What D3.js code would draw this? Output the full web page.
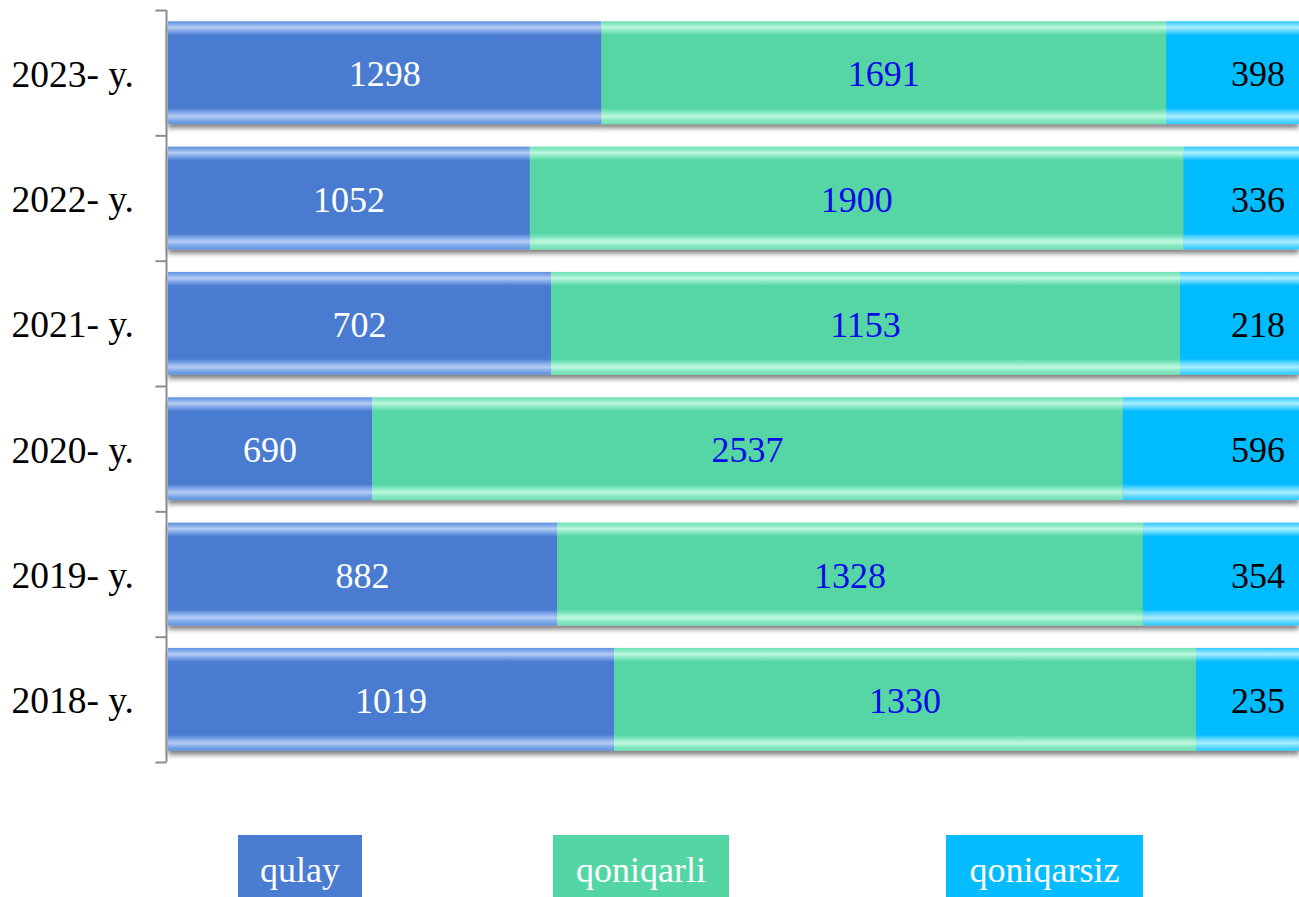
<!DOCTYPE html>
<html>
<head>
<meta charset="utf-8">
<script src="https://cdn.jsdelivr.net/npm/d3@7"></script>
<style>
  html, body { margin: 0; padding: 0; background: #fff; }
  svg { display: block; }
</style>
</head>
<body>
<svg id="chart" width="1299" height="897"></svg>
<script>
// Years, top to bottom
const years = ["2023- y.", "2022- y.", "2021- y.", "2020- y.", "2019- y.", "2018- y."];
// Series values per year
const qulay      = [1298, 1052, 702, 690, 882, 1019];
const qoniqarli  = [1691, 1900, 1153, 2537, 1328, 1330];
const qoniqarsiz = [398, 336, 218, 596, 354, 235];
const seriesNames = ["qulay", "qoniqarli", "qoniqarsiz"];

const plotLeft = 167, plotRight = 1299, plotTop = 10, plotBottom = 762;
const fontFam = "'Liberation Serif', 'Times New Roman', serif";

const palette = {
  qulay:      { main: "#4a7cd1", edge: "#5f91e0", light: "#b5cdf3", mid: "#7ea6e8", text: "#ffffff" },
  qoniqarli:  { main: "#54d6a4", edge: "#6ee0b4", light: "#bff8de", mid: "#86e8c2", text: "#0a0ae8" },
  qoniqarsiz: { main: "#05bcff", edge: "#2ec8ff", light: "#aaeeff", mid: "#5ed6ff", text: "#000000" }
};

const rows = years.map((yr, i) => ({
  year: yr,
  qulay: qulay[i],
  qoniqarli: qoniqarli[i],
  qoniqarsiz: qoniqarsiz[i]
}));
const stacked = d3.stack().keys(seriesNames).offset(d3.stackOffsetExpand)(rows);

const svg = d3.select("#chart");
const defs = svg.append("defs");

// Glossy bands along the top and bottom edge of each bar
seriesNames.forEach(k => {
  const c = palette[k];
  const g = defs.append("linearGradient")
    .attr("id", "grad-" + k).attr("x1", 0).attr("y1", 0).attr("x2", 0).attr("y2", 1);
  [
    [0, c.edge], [0.025, c.mid], [0.06, c.light], [0.095, c.mid], [0.135, c.main],
    [0.845, c.main], [0.885, c.mid], [0.925, c.light], [0.965, c.mid], [1, c.edge]
  ].forEach(([o, col]) => g.append("stop").attr("offset", o).attr("stop-color", col));
});

const shadow = defs.append("filter").attr("id", "shadow")
  .attr("x", "-5%").attr("y", "-10%").attr("width", "110%").attr("height", "130%");
shadow.append("feDropShadow").attr("dx", 0).attr("dy", 4).attr("stdDeviation", 2.4)
  .attr("flood-color", "#000").attr("flood-opacity", 0.5);

const x = d3.scaleLinear().domain([0, 1]).range([plotLeft + 1, plotRight]);
const y = d3.scaleBand().domain(years).range([plotTop, plotBottom]).paddingInner(0.18).paddingOuter(0.09);

// Bars, one group per year so the shadow falls under the whole row
const rowG = svg.append("g").selectAll("g.row").data(years).join("g")
  .attr("class", "row").attr("filter", "url(#shadow)");

rowG.each(function(yr, i) {
  const g = d3.select(this);
  stacked.forEach(layer => {
    const d = layer[i];
    g.append("rect")
      .attr("x", x(d[0]))
      .attr("y", y(yr))
      .attr("width", x(d[1]) - x(d[0]))
      .attr("height", y.bandwidth())
      .attr("fill", `url(#grad-${layer.key})`);
  });
});

// Value labels
const labelG = svg.append("g").attr("font-family", fontFam).attr("font-size", 36);
years.forEach((yr, i) => {
  stacked.forEach((layer, li) => {
    const d = layer[i];
    const last = li === stacked.length - 1;
    labelG.append("text")
      .attr("x", last ? x(d[1]) - 14 : (x(d[0]) + x(d[1])) / 2)
      .attr("y", y(yr) + y.bandwidth() / 2 + 1)
      .attr("dy", "0.35em")
      .attr("text-anchor", last ? "end" : "middle")
      .attr("fill", palette[layer.key].text)
      .text(rows[i][layer.key]);
  });
});

// Category axis: ticks at band boundaries
const yEdges = d3.scaleLinear().domain([0, years.length]).range([plotBottom, plotTop]);
const axisG = svg.append("g").attr("transform", `translate(${plotLeft - 0.5},0)`)
  .call(d3.axisLeft(yEdges).ticks(years.length).tickSize(11).tickSizeOuter(0).tickFormat(""));
axisG.selectAll("line, path").attr("stroke", "#8c8c8c").attr("stroke-width", 2);
axisG.select(".domain").attr("d", `M0,${plotTop}V${plotBottom}`);

// Year labels
svg.append("g").selectAll("text").data(years).join("text")
  .attr("x", plotLeft - 33)
  .attr("y", d => y(d) + y.bandwidth() / 2 + 1)
  .attr("dy", "0.35em")
  .attr("text-anchor", "end")
  .attr("font-family", fontFam).attr("font-size", 37.5).attr("fill", "#000")
  .text(d => d);

// Legend
const legendX = d3.scaleOrdinal().domain(seriesNames).range([238, 553, 946]);
const legendW = { qulay: 124, qoniqarli: 176, qoniqarsiz: 197 };
const lg = svg.append("g").selectAll("g").data(seriesNames).join("g")
  .attr("transform", d => `translate(${legendX(d)},835)`);
lg.append("rect")
  .attr("width", d => legendW[d]).attr("height", 62)
  .attr("fill", d => palette[d].main);
lg.append("text")
  .attr("x", d => legendW[d] / 2).attr("y", 47)
  .attr("text-anchor", "middle")
  .attr("font-family", fontFam).attr("font-size", 36).attr("fill", "#fff")
  .text(d => d);
</script>
</body>
</html>
